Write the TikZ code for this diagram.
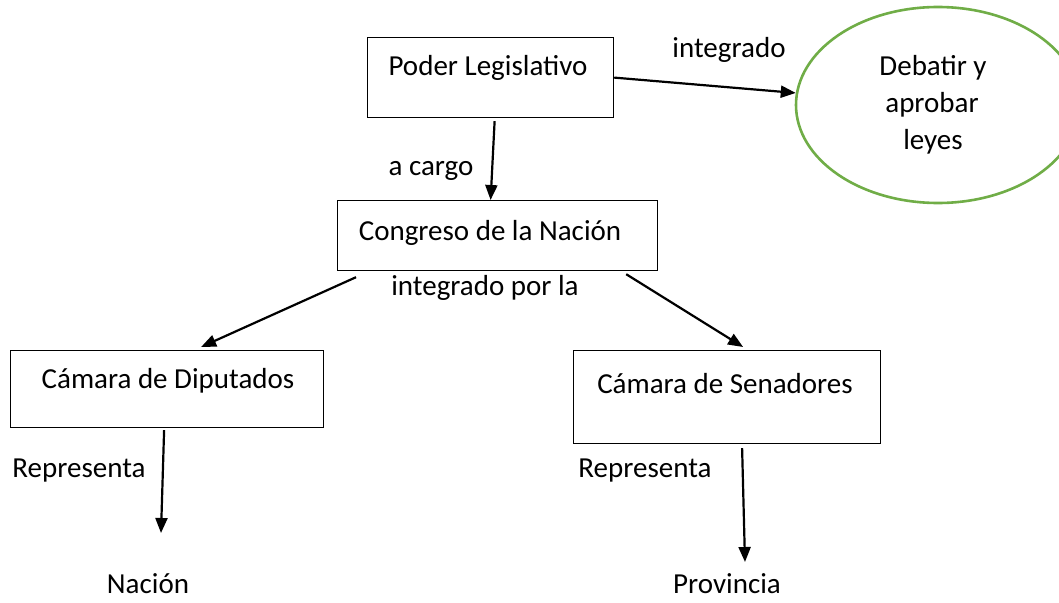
\documentclass[tikz,border=0pt]{standalone}
\usepackage{fontspec}
\setmainfont{Carlito}
\usetikzlibrary{arrows.meta,shapes.geometric}
\definecolor{ellgreen}{RGB}{112,173,71}
\begin{document}
\begin{tikzpicture}[x=1pt,y=-1pt,
  box/.style={draw,line width=1.2pt,inner sep=0pt,anchor=north west},
  txt/.style={font=\fontsize{29}{32}\selectfont,anchor=base,inner sep=0pt},
  arr/.style={line width=2.2pt,-{Triangle[length=15pt,width=12pt]}}]
\useasboundingbox (0,0) rectangle (1059,602);
% boxes
\node[box,minimum width=246pt,minimum height=80pt] (pl) at (367,37) {};
\node[box,minimum width=320pt,minimum height=70pt] (cn) at (337,200) {};
\node[box,minimum width=313pt,minimum height=77pt] (cd) at (10,350) {};
\node[box,minimum width=307pt,minimum height=93pt] (cs) at (573,350) {};
\node[ellipse,draw=ellgreen,line width=2.6pt,
  minimum width=284pt,minimum height=196pt,inner sep=0pt] (el) at (938,105) {};
% texts
\node[txt] (tpl) at (488,75) {Poder Legislativo};
\node[txt] (tcn) at (490,240) {Congreso de la Nación};
\node[txt] (tcd) at (168,388) {Cámara de Diputados};
\node[txt] (tcs) at (725,393) {Cámara de Senadores};
\node[txt] (tel1) at (933,75) {Debatir y};
\node[txt] (tel2) at (932,112) {aprobar};
\node[txt] (tel3) at (933,149) {leyes};
\node[txt] (lint) at (729,57) {integrado};
\node[txt] (lcar) at (431,175) {a cargo};
\node[txt] (lpor) at (485,295) {integrado por la};
\node[txt] (lr1) at (79,477) {Representa};
\node[txt] (lr2) at (645,477) {Representa};
\node[txt] (nac) at (148,593) {Nación};
\node[txt] (prov) at (727,593) {Provincia};
\coordinate (e1) at (161,533);
\coordinate (e2) at (745,562);
% connectors
\draw[arr] (pl.east) -- (el);
\draw[arr] ([xshift=4pt,yshift=-3pt]pl.south) -- ([xshift=-7pt]cn.north);
\draw[arr] ([xshift=19pt,yshift=-6pt]cn.south west) -- ([xshift=34pt,yshift=3pt]cd.north);
\draw[arr] ([xshift=-32pt,yshift=-3pt]cn.south east) -- ([xshift=16pt,yshift=3pt]cs.north);
\draw[arr] ([xshift=-3pt,yshift=-2pt]cd.south) -- (e1);
\draw[arr] ([xshift=15pt,yshift=-4pt]cs.south) -- (e2);
\end{tikzpicture}
\end{document}
